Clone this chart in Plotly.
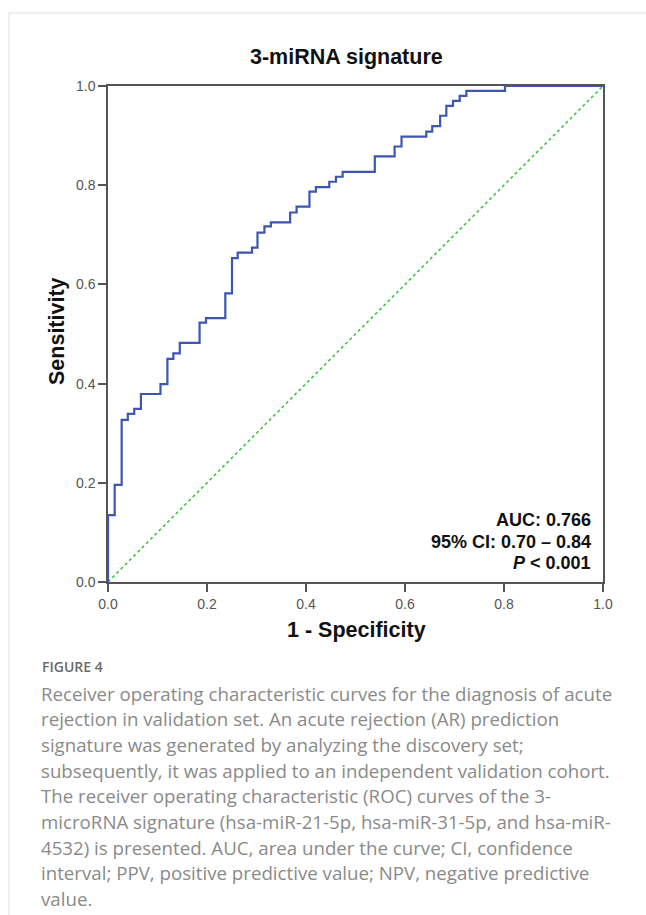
import plotly.graph_objects as go

# ROC curve vertices (1 - specificity, sensitivity), drawn with horizontal-then-vertical steps
fpr = [0.0, 0.0, 0.0135, 0.0276, 0.040, 0.053, 0.0665, 0.106, 0.120, 0.132, 0.145,
       0.185, 0.198, 0.237, 0.2505, 0.262, 0.291, 0.302, 0.316, 0.329, 0.368, 0.381,
       0.407, 0.420, 0.447, 0.4605, 0.474, 0.539, 0.579, 0.593, 0.643, 0.655, 0.671,
       0.6835, 0.697, 0.7105, 0.724, 0.802, 1.0]
tpr = [0.0, 0.135, 0.196, 0.327, 0.339, 0.349, 0.379, 0.399, 0.450, 0.461, 0.482,
       0.523, 0.532, 0.582, 0.653, 0.664, 0.674, 0.7045, 0.717, 0.725, 0.745, 0.757,
       0.787, 0.796, 0.807, 0.817, 0.827, 0.858, 0.878, 0.898, 0.908, 0.919, 0.940,
       0.960, 0.970, 0.980, 0.990, 1.0, 1.0]
ref_x = [0.0, 1.0]
ref_y = [0.0, 1.0]
tick_vals = [0.0, 0.2, 0.4, 0.6, 0.8, 1.0]
tick_text = ["0.0", "0.2", "0.4", "0.6", "0.8", "1.0"]

title = "3-miRNA signature"
x_title = "1 - Specificity"
y_title = "Sensitivity"
stats = ["AUC: 0.766", "95% CI: 0.70 \u2013 0.84", "<i>P</i> < 0.001"]
fig_label = "FIGURE 4"
caption = [
    "Receiver operating characteristic curves for the diagnosis of acute",
    "rejection in validation set. An acute rejection (AR) prediction",
    "signature was generated by analyzing the discovery set;",
    "subsequently, it was applied to an independent validation cohort.",
    "The receiver operating characteristic (ROC) curves of the 3-",
    "microRNA signature (hsa-miR-21-5p, hsa-miR-31-5p, and hsa-miR-",
    "4532) is presented. AUC, area under the curve; CI, confidence",
    "interval; PPV, positive predictive value; NPV, negative predictive",
    "value.",
]

W, H = 646, 915
L, R, T, B = 108, 43, 86, 333
PW = W - L - R
PH = H - T - B


def px(x):
    return (x - L) / PW


def py(y):
    return (H - B - y) / PH


fig = go.Figure()
fig.add_trace(go.Scatter(x=ref_x, y=ref_y, mode="lines",
                         line=dict(color="#3cc43c", width=1.6, dash="dot"),
                         hoverinfo="skip", showlegend=False))
fig.add_trace(go.Scatter(x=fpr, y=tpr, mode="lines", line_shape="hv",
                         line=dict(color="#3d56b2", width=2.2),
                         showlegend=False))

axis_common = dict(range=[0, 1], showgrid=False, zeroline=False, showline=True,
                   linecolor="#555555", linewidth=1.5, mirror=True,
                   ticks="outside", ticklen=8, tickwidth=1.5, tickcolor="#555555",
                   tickvals=tick_vals, ticktext=tick_text,
                   tickfont=dict(family="Liberation Sans, Arial", size=14, color="#555555"))
fig.update_xaxes(**axis_common)
fig.update_yaxes(**axis_common)

ann = []
ann.append(dict(text=f"<b>{title}</b>", x=px(346), y=py(57), xref="paper", yref="paper",
                showarrow=False, xanchor="center", yanchor="middle",
                font=dict(family="Liberation Sans, Arial", size=21.5, color="#111111")))
ann.append(dict(text=f"<b>{x_title}</b>", x=px(356), y=py(630), xref="paper", yref="paper",
                showarrow=False, xanchor="center", yanchor="middle",
                font=dict(family="Liberation Sans, Arial", size=21.5, color="#111111")))
ann.append(dict(text=f"<b>{y_title}</b>", x=px(57), y=py(331), xref="paper", yref="paper",
                showarrow=False, xanchor="center", yanchor="middle", textangle=-90,
                font=dict(family="Liberation Sans, Arial", size=21.5, color="#111111")))
for i, s in enumerate(stats):
    ann.append(dict(text=f"<b>{s}</b>", x=px(593), y=py(520 + 21.6 * i), xref="paper", yref="paper",
                    showarrow=False, xanchor="right", yanchor="middle",
                    font=dict(family="Liberation Sans, Arial", size=18, color="#111111")))
ann.append(dict(text=fig_label, x=px(40), y=py(666), xref="paper", yref="paper",
                showarrow=False, xanchor="left", yanchor="middle",
                font=dict(family="Open Sans", size=14, color="#6a6a6a", weight=600)))
for i, line in enumerate(caption):
    ann.append(dict(text=line, x=px(39), y=py(693 + 25.7 * i), xref="paper", yref="paper",
                    showarrow=False, xanchor="left", yanchor="middle",
                    font=dict(family="Open Sans", size=18.7, color="#8a8a8a")))

shapes = [
    dict(type="line", xref="paper", yref="paper", x0=px(9), x1=px(646), y0=py(13), y1=py(13),
         line=dict(color="#dddddd", width=1)),
    dict(type="line", xref="paper", yref="paper", x0=px(9), x1=px(9), y0=py(13), y1=py(915),
         line=dict(color="#dddddd", width=1)),
]

fig.update_layout(width=W, height=H, margin=dict(l=L, r=R, t=T, b=B),
                  paper_bgcolor="white", plot_bgcolor="white",
                  annotations=ann, shapes=shapes, showlegend=False)

fig.write_html("out.html", config={"displayModeBar": False},
               post_script="document.body.style.margin='0';document.body.style.overflow='hidden';")
